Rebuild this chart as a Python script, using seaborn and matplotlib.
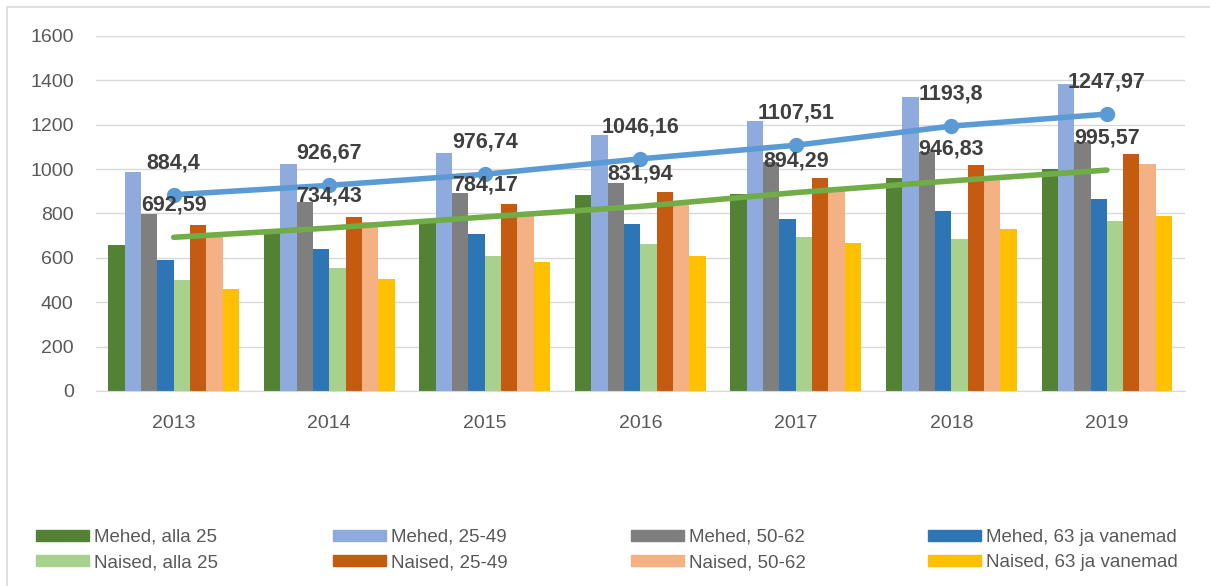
import pandas as pd
import matplotlib.pyplot as plt
import seaborn as sns
from matplotlib.patches import Patch, Rectangle

# andmed
aastad = ['2013', '2014', '2015', '2016', '2017', '2018', '2019']
mehed_alla25 = [660, 711, 763, 883, 888, 961, 1000]
mehed_25_49 = [985, 1023, 1071, 1154, 1215, 1325, 1384]
mehed_50_62 = [796, 853, 894, 936, 1030, 1078, 1124]
mehed_63 = [590, 638, 707, 753, 775, 813, 867]
naised_alla25 = [502, 553, 608, 664, 694, 685, 766]
naised_25_49 = [748, 786, 843, 897, 960, 1018, 1067]
naised_50_62 = [705, 761, 793, 838, 906, 951, 1023]
naised_63 = [460, 503, 583, 608, 667, 730, 789]
mehed_kesk = [884.4, 926.67, 976.74, 1046.16, 1107.51, 1193.8, 1247.97]
naised_kesk = [692.59, 734.43, 784.17, 831.94, 894.29, 946.83, 995.57]

grupid = ['Mehed, alla 25', 'Mehed, 25-49', 'Mehed, 50-62', 'Mehed, 63 ja vanemad',
          'Naised, alla 25', 'Naised, 25-49', 'Naised, 50-62', 'Naised, 63 ja vanemad']
seeriad = [mehed_alla25, mehed_25_49, mehed_50_62, mehed_63,
           naised_alla25, naised_25_49, naised_50_62, naised_63]
varvid = ['#548235', '#8FAADC', '#7F7F7F', '#2E75B6',
          '#A9D18E', '#C55A11', '#F4B183', '#FFC000']

rows = []
for g, s in zip(grupid, seeriad):
    for a, v in zip(aastad, s):
        rows.append({'aasta': a, 'grupp': g, 'vaartus': v})
df = pd.DataFrame(rows)

sns.set_style('white')
plt.rcParams['font.family'] = ['Liberation Sans', 'DejaVu Sans']

fig = plt.figure(figsize=(12.1, 5.86), dpi=100)
ax = fig.add_axes([0.0793, 0.3328, 0.8997, 0.6058])

sns.barplot(data=df, x='aasta', y='vaartus', hue='grupp', hue_order=grupid,
            order=aastad, palette=varvid, saturation=1, width=0.84,
            linewidth=0, legend=False, ax=ax)

sns.pointplot(x=aastad, y=mehed_kesk, order=aastad, color='#5B9BD5',
              markers='o', markersize=8, linewidth=4, ax=ax)
sns.pointplot(x=aastad, y=naised_kesk, order=aastad, color='#70AD47',
              markersize=0, linewidth=4, ax=ax)
for ln in ax.lines:
    ln.set_solid_capstyle('round')

# väärtuste sildid
for i, (m, n) in enumerate(zip(mehed_kesk, naised_kesk)):
    for v in (m, n):
        ax.annotate(str(v).replace('.', ','), (i, v), xytext=(0, 32),
                    textcoords='offset pixels', ha='center', va='center',
                    fontsize=15.5, fontweight='bold', color='#404040')

ax.set_ylim(0, 1600)
ax.set_xlim(-0.5, 6.5)
ax.set_yticks(range(0, 1601, 200))
ax.yaxis.grid(True, color='#D9D9D9', linewidth=1)
ax.set_axisbelow(True)
for s in ['top', 'right', 'left']:
    ax.spines[s].set_visible(False)
ax.spines['bottom'].set_color('#D9D9D9')
ax.tick_params(axis='both', length=0, labelsize=14, colors='#595959')
ax.tick_params(axis='x', pad=17)
ax.tick_params(axis='y', pad=16)
ax.set_xlabel('')
ax.set_ylabel('')

# legend: neli veergu
veeru_x = [36, 333, 631, 928]
for k, x0 in enumerate(veeru_x):
    h = [Patch(color=varvid[k]), Patch(color=varvid[k + 4])]
    lab = [grupid[k], grupid[k + 4]]
    fig.legend(h, lab, loc='upper left', bbox_to_anchor=(x0 / 1210, 1 - 529 / 586),
               frameon=False, handlelength=2.8, handleheight=0.55,
               handletextpad=0.3, labelspacing=0.45, borderaxespad=0, borderpad=0,
               labelcolor='#595959',
               prop={'family': ['Liberation Sans', 'DejaVu Sans'], 'size': 13.5})

# raam (vasak ja ülemine serv)
fig.patches.append(Rectangle((7 / 1210, -0.05), 1.2, 1.05 - 7 / 586,
                             transform=fig.transFigure, fill=False,
                             edgecolor='#D9D9D9', linewidth=1.2))

fig.savefig('out.png', dpi=100)
